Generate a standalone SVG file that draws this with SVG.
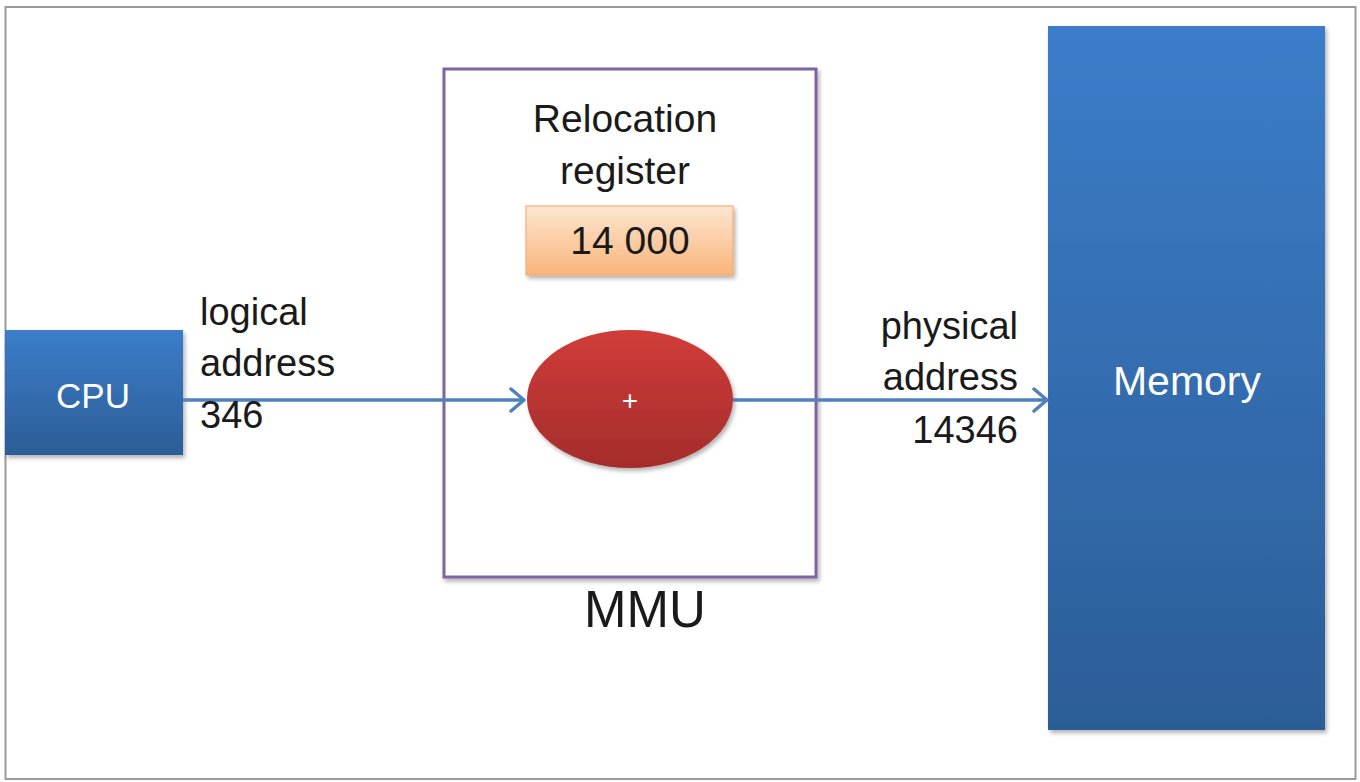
<svg xmlns="http://www.w3.org/2000/svg" width="1360" height="782" viewBox="0 0 1360 782">
<style>
.t{font-family:"Liberation Sans",Arial,sans-serif;fill:#1a1a1a}
.w{font-family:"Liberation Sans",Arial,sans-serif;fill:#ffffff}
.conn{stroke:#4f81bd;stroke-width:3.5;fill:none}
</style>
<defs>
<linearGradient id="blue" x1="0" y1="0" x2="0" y2="1">
<stop offset="0" stop-color="#3b7dca"/>
<stop offset="1" stop-color="#2c5d96"/>
</linearGradient>
<linearGradient id="orange" x1="0" y1="0" x2="0" y2="1">
<stop offset="0" stop-color="#fde6d2"/>
<stop offset="1" stop-color="#f9b579"/>
</linearGradient>
<linearGradient id="red" x1="0" y1="0" x2="0" y2="1">
<stop offset="0" stop-color="#d03d3a"/>
<stop offset="1" stop-color="#a42c2b"/>
</linearGradient>
<filter id="sh" x="-10%" y="-10%" width="120%" height="120%">
<feDropShadow dx="2" dy="3" stdDeviation="2" flood-color="#000" flood-opacity="0.3"/>
</filter>
<marker id="arr" markerWidth="20" markerHeight="26" refX="17" refY="13" orient="auto" markerUnits="userSpaceOnUse">
<path d="M4,2 L17,13 L4,24" fill="none" stroke="#4f81bd" stroke-width="3.5" stroke-linecap="round" stroke-linejoin="round"/>
</marker>
</defs>
<rect x="0" y="0" width="1360" height="782" fill="#ffffff"/>
<rect x="5.5" y="7" width="1350" height="772" fill="none" stroke="#9a9a9a" stroke-width="2"/>

<g id="mmu">
<rect x="444" y="69" width="372" height="508" fill="#ffffff" stroke="#8064a2" stroke-width="3" filter="url(#sh)"/>
<text class="t" x="645" y="627" font-size="51" text-anchor="middle">MMU</text>
</g>

<g id="relocation-register">
<text class="t" x="625" y="132" font-size="39" text-anchor="middle">Relocation</text>
<text class="t" x="625" y="184" font-size="39" text-anchor="middle">register</text>
<rect x="526" y="206" width="207" height="69" fill="url(#orange)" stroke="#f6a664" stroke-width="1" filter="url(#sh)"/>
<text class="t" x="630" y="254" font-size="39" text-anchor="middle">14 000</text>
</g>

<g id="cpu">
<rect x="5" y="330" width="178" height="125" fill="url(#blue)" filter="url(#sh)"/>
<text class="w" x="93" y="408" font-size="35" text-anchor="middle">CPU</text>
</g>

<g id="adder">
<ellipse cx="630" cy="399" rx="103" ry="69" fill="url(#red)" filter="url(#sh)"/>
<text class="w" x="630" y="410" font-size="28" text-anchor="middle">+</text>
</g>

<g id="memory">
<rect x="1048" y="26" width="277" height="704" fill="url(#blue)" filter="url(#sh)"/>
<text class="w" x="1187" y="395" font-size="41" text-anchor="middle">Memory</text>
</g>

<g id="connectors">
<line class="conn" x1="183" y1="400" x2="524" y2="400" marker-end="url(#arr)"/>
<line class="conn" x1="733" y1="400" x2="1047" y2="400" marker-end="url(#arr)"/>
</g>

<g id="labels">
<text class="t" x="200" y="325" font-size="38">logical</text>
<text class="t" x="200" y="376" font-size="38">address</text>
<text class="t" x="200" y="428" font-size="38">346</text>
<text class="t" x="1018" y="339" font-size="38" text-anchor="end">physical</text>
<text class="t" x="1018" y="390" font-size="38" text-anchor="end">address</text>
<text class="t" x="1018" y="443" font-size="38" text-anchor="end">14346</text>
</g>
</svg>
